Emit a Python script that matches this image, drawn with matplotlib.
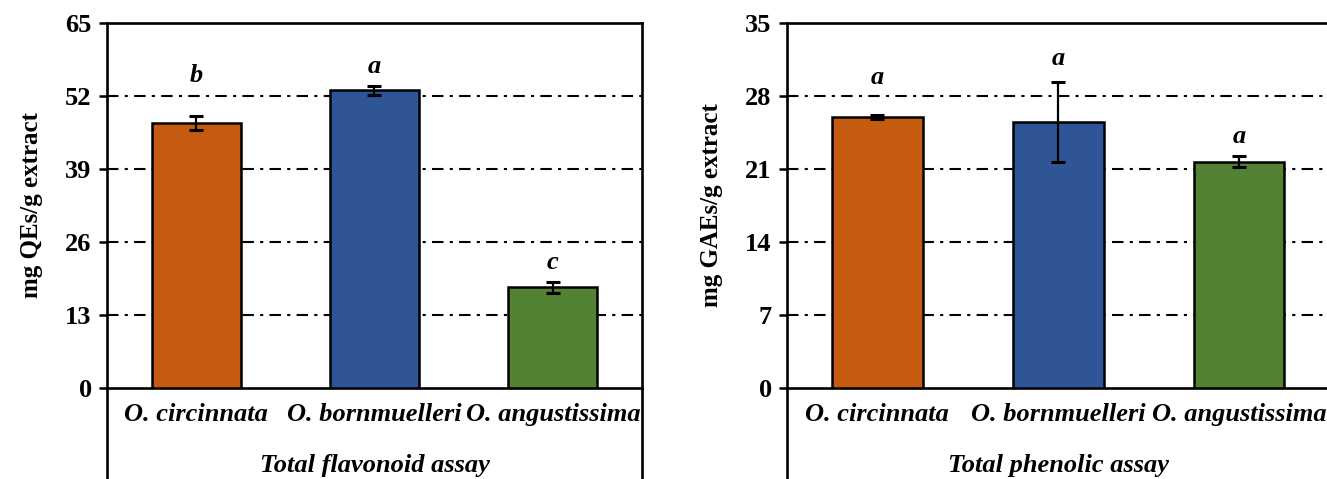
import matplotlib
matplotlib.use("Agg")
import matplotlib.pyplot as plt

# -----------------------------
# Data
# -----------------------------
species = ["O. circinnata", "O. bornmuelleri", "O. angustissima"]
colors = ["#C55A11", "#2F5597", "#548235"]

flav_values = [47.2, 53.0, 17.9]
flav_errors = [1.3, 0.8, 0.9]
flav_letters = ["b", "a", "c"]
flav_letter_y = [55.7, 57.3, 22.4]
flav_ticks = [0, 13, 26, 39, 52, 65]

phen_values = [26.0, 25.5, 21.7]
phen_errors = [0.2, 3.8, 0.5]
phen_letters = ["a", "a", "a"]
phen_letter_y = [29.8, 31.6, 24.1]
phen_ticks = [0, 7, 14, 21, 28, 35]

plt.rcParams["font.family"] = ["Liberation Serif", "DejaVu Serif"]

fig = plt.figure(figsize=(13.27, 4.79), dpi=100)

ax1 = fig.add_axes([0.0806, 0.19, 0.4032, 0.762])
ax2 = fig.add_axes([0.593, 0.19, 0.409, 0.762])


def draw_panel(ax, values, errors, letters, letter_y, ticks, ylabel, xlabel):
    x = range(len(species))
    ymax = ticks[-1]
    ax.bar(x, values, width=0.5, color=colors, edgecolor="black",
           linewidth=1.8, zorder=3)
    ax.errorbar(x, values, yerr=errors, fmt="none", ecolor="black",
                elinewidth=1.6, capsize=4.7, capthick=2.2, zorder=4)
    # significance letters
    for i, (ly, l) in enumerate(zip(letter_y, letters)):
        ax.text(i, ly, l, ha="center", va="center",
                fontsize=19, fontweight="bold", style="italic")

    ax.set_xlim(-0.5, len(species) - 0.5)
    ax.set_ylim(0, ymax)
    ax.set_yticks(ticks)
    ax.set_yticklabels([str(t) for t in ticks], fontsize=19, fontweight="bold")
    ax.set_xticks(list(x))
    ax.set_xticklabels(species, fontsize=19, fontweight="bold", style="italic")
    ax.tick_params(axis="x", length=0, pad=11)
    ax.tick_params(axis="y", length=6, width=1.8, direction="out", pad=5)

    for t in ticks[1:-1]:
        ax.axhline(t, color="black", linewidth=1.5,
                   linestyle=(0, (5.5, 3, 1.5, 3)), zorder=1)

    for s in ax.spines.values():
        s.set_linewidth(1.9)

    ax.set_ylabel(ylabel, fontsize=18, fontweight="bold", labelpad=16)
    ax.set_xlabel(xlabel, fontsize=19, fontweight="bold", style="italic",
                  labelpad=20)

    # frame lines continuing below the axes
    for xx in (0, 1):
        ax.plot([xx, xx], [0, -0.3], transform=ax.transAxes, color="black",
                linewidth=1.9, clip_on=False, zorder=5)


draw_panel(ax1, flav_values, flav_errors, flav_letters, flav_letter_y,
           flav_ticks, "mg QEs/g extract", "Total flavonoid assay")
draw_panel(ax2, phen_values, phen_errors, phen_letters, phen_letter_y,
           phen_ticks, "mg GAEs/g extract", "Total phenolic assay")

fig.savefig("out.png", dpi=100)
